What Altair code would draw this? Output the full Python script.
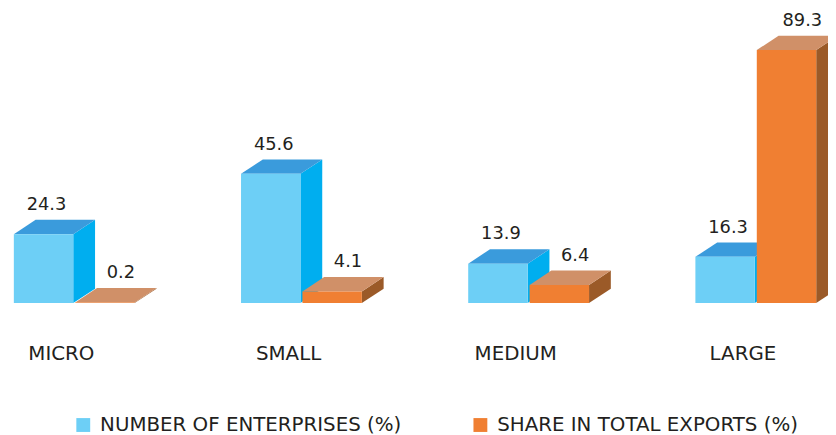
import altair as alt
import pandas as pd

# ---- data ----
CATEGORIES = ["MICRO", "SMALL", "MEDIUM", "LARGE"]
SERIES = ["NUMBER OF ENTERPRISES (%)", "SHARE IN TOTAL EXPORTS (%)"]
ENTERPRISES = [24.3, 45.6, 13.9, 16.3]
EXPORTS = [0.2, 4.1, 6.4, 89.3]

# ---- style / geometry (x in layout units) ----
GROUP_START = 13.9
GROUP_STEP = 229.4
BAR_W = 60
SERIES_OFFSET = [0, 62]
DEPTH_X = 22
DEPTH_Y = 5.07            # depth expressed in value units
FRONT = ["#6DCFF6", "#F07F32"]
TOP = ["#3A9BDC", "#D09068"]
SIDE = ["#00AEEF", "#9B5A28"]
LABEL_SHIFT = [3, 16]
CAT_SHIFT = 48
TEXT = "#231F20"
FONT = "DejaVu Sans"
FS = 20
FS_VAL = 18

VALUES = [ENTERPRISES, EXPORTS]

poly_rows, front_rows, label_rows = [], [], []
for s, vals in enumerate(VALUES):
    for i, v in enumerate(vals):
        xl = GROUP_START + i * GROUP_STEP + SERIES_OFFSET[s]
        xr = xl + BAR_W
        d = DEPTH_Y
        pid = f"{s}-{i}-a"
        for x, y, y2 in [(xr, 0, v), (xr + DEPTH_X, d, v + d)]:
            poly_rows.append(dict(poly=pid, x=x, y=y, y2=y2, fill=SIDE[s]))
        pid = f"{s}-{i}-b"
        for x, y, y2 in [(xl, v, v), (xl + DEPTH_X, v, v + d),
                         (xr, v, v + d), (xr + DEPTH_X, v + d, v + d)]:
            poly_rows.append(dict(poly=pid, x=x, y=y, y2=y2, fill=TOP[s]))
        front_rows.append(dict(series=SERIES[s], x=xl, x2=xr, y=0, y2=v))
        label_rows.append(dict(x=xl + BAR_W / 2 + LABEL_SHIFT[s], y=v + d, value=v))

cat_df = pd.DataFrame(dict(
    cat=CATEGORIES,
    x=[GROUP_START + i * GROUP_STEP + CAT_SHIFT for i in range(len(CATEGORIES))],
))

xs = alt.Scale(domain=[8, 836], nice=False, zero=False)
ys = alt.Scale(domain=[-45.87, 103.43], nice=False, zero=False)

faces = alt.Chart(pd.DataFrame(poly_rows)).mark_area(interpolate="linear", opacity=1).encode(
    x=alt.X("x:Q", scale=xs, axis=None),
    y=alt.Y("y:Q", scale=ys, axis=None, stack=None),
    y2="y2:Q",
    detail="poly:N",
    color=alt.Color("fill:N", scale=None),
)

fronts = alt.Chart(pd.DataFrame(front_rows)).mark_rect().encode(
    x=alt.X("x:Q", scale=xs, axis=None),
    x2="x2:Q",
    y=alt.Y("y:Q", scale=ys, axis=None),
    y2="y2:Q",
    color=alt.Color(
        "series:N",
        scale=alt.Scale(domain=SERIES, range=FRONT),
        legend=alt.Legend(
            orient="none", legendX=66, legendY=409, direction="horizontal",
            title=None, symbolType="square", symbolSize=196, symbolStrokeWidth=0,
            labelFontSize=FS, labelFont=FONT, labelColor=TEXT, labelOffset=7,
            labelLimit=600, columnPadding=69, padding=0,
        ),
    ),
)

labels = alt.Chart(pd.DataFrame(label_rows)).mark_text(
    baseline="alphabetic", dy=-10, fontSize=FS_VAL, font=FONT, color=TEXT
).encode(
    x=alt.X("x:Q", scale=xs, axis=None),
    y=alt.Y("y:Q", scale=ys, axis=None),
    text=alt.Text("value:Q", format=".1f"),
)

cats = alt.Chart(cat_df).mark_text(
    baseline="middle", fontSize=FS, font=FONT, color=TEXT
).encode(
    x=alt.X("x:Q", scale=xs, axis=None),
    y=alt.value(347),
    text="cat:N",
)

chart = alt.layer(faces, fronts, labels, cats).resolve_scale(color="independent").properties(
    width=828, height=427, padding=0, autosize="none", background="white"
).configure_view(stroke=None)

chart.save("out.html", embed_options={"renderer": "svg", "actions": False})
